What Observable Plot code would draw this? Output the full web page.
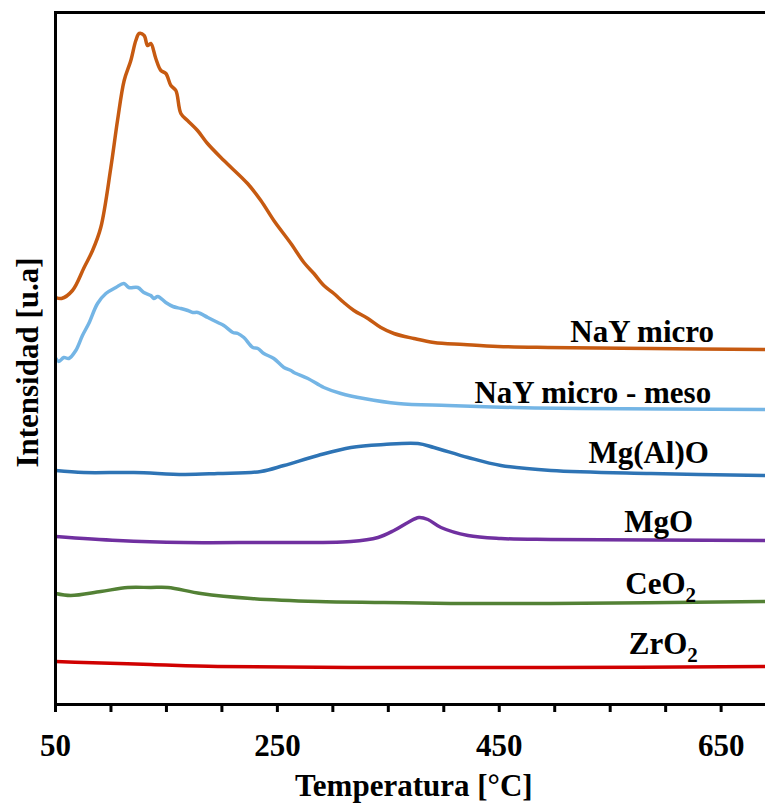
<!DOCTYPE html>
<html>
<head>
<meta charset="utf-8">
<script src="https://cdn.jsdelivr.net/npm/d3@7"></script>
<script src="https://cdn.jsdelivr.net/npm/@observablehq/plot@0.6"></script>
<style>
  html, body { margin: 0; padding: 0; background: #fff; }
  #chart svg { display: block; }
</style>
</head>
<body>
<div id="chart"></div>
<script>
// Series names and colours
const seriesNames = ["NaY micro", "NaY micro - meso", "Mg(Al)O", "MgO", "CeO2", "ZrO2"];
const seriesColors = ["#C65A11", "#74B5E5", "#2E74B5", "#7030A0", "#538135", "#D00000"];

// Temperature (°C) and intensity (a.u.) for each trace
const nayMicroT = [50.3,55.4,65.3,75.8,83.4,90.8,99.9,105.9,111.9,117.9,122.4,125.4,129.9,133,135.9,140.4,145,149.5,154,158.5,163,169,178,187,201.8,223.1,235.1,246.8,262.2,273.9,282.9,291.9,300.9,309.9,319,331.6,343.3,355,373,391,418,448.8,493.9,586.7,690.4];
const nayMicroI = [407,406,414,437,454,477,537,584,624,644,664,671,669,659,661,646,634,631,619,614,591,584,574,561,544,521,504,484,461,442,431,419,411,402,394,386,377,371,366,362,360,358,357,356,355];

const nayMesoT = [50.3,53,57.5,62,68.3,74.3,80,87.9,95.4,104.4,111.6,116.1,124.2,129.6,135.9,138.6,142.2,149.4,155.8,163,169.3,173.8,178.3,187.3,196.3,201.7,209.9,214.4,219.8,227.9,232.4,237.8,246.8,255.9,262.2,264.9,277.5,291.9,307.3,328,358.7,403.8,463.3,523.7,690.4];
const nayMesoI = [346,343,347,346,354,369,381,401,411,417,421,417,417,412,409,406,408,402,398,396,394,392,392,387,382,379,372,371,367,357,356,351,346,337,334,332,326,317,311,306,301,299,297,296,295];

const mgAlOT = [50.3,75.5,120.6,165.7,196.3,235.1,255.9,286.5,316.3,346,376.7,391.1,421.8,451.5,496.6,586.7,690.4];
const mgAlOI = [234,232,232,230,231,233,239,249,257,260,261,257,247,239,234,231,229];

const mgoT = [50.3,106.2,165.7,226.1,316.3,340.7,355.1,367.7,377.6,385.7,397.5,421.8,451.5,496.6,690.4];
const mgoI = [168,164,162,162,163,167,174,182,187,185,177,169,166,165,164];

const ceo2T = [50.3,63.8,90.8,115.2,135.9,151.3,181,226.1,286.5,346,406.4,496.6,690.4];
const ceo2I = [111,109,113,117,117,117,111,106,103,102,101,101,103];

const zro2T = [50.3,75.5,135.9,196.3,316.3,496.6,690.4];
const zro2I = [43,42,40,38,37,37,38];

// Axis ticks
const majorTicks = [50, 250, 450, 650];
const minorTicks = [50,100,150,200,250,300,350,400,450,500,550,600,650];

// Label placement (end of text, vertical centre)
const labelT = [643.6, 641, 639, 624.7, 627.4, 629];
const labelI = [372, 311, 251, 182, 120, 60];

const seriesT = [nayMicroT, nayMesoT, mgAlOT, mgoT, ceo2T, zro2T];
const seriesI = [nayMicroI, nayMesoI, mgAlOI, mgoI, ceo2I, zro2I];

const rows = [];
seriesNames.forEach((name, k) => {
  seriesT[k].forEach((t, i) => rows.push({name, t, v: seriesI[k][i]}));
});
const labels = seriesNames.map((name, k) => ({name, t: labelT[k], v: labelI[k]}));

const FONT = "'Liberation Serif', 'Times New Roman', serif";

const chart = Plot.plot({
  width: 765,
  height: 805,
  marginLeft: 55,
  marginRight: 0,
  marginTop: 12,
  marginBottom: 101,
  style: {fontFamily: FONT, fontWeight: "bold", fontSize: "31px", background: "#fff", overflow: "visible"},
  x: {domain: [50, 690]},
  y: {domain: [0, 692], axis: null},
  color: {domain: seriesNames, range: seriesColors},
  marks: [
    Plot.line(rows, {x: "t", y: "v", z: "name", stroke: "name", strokeWidth: 3.5, curve: "catmull-rom"}),
    Plot.ruleY([0, 692], {stroke: "#000", strokeWidth: 3, x1: 50 - 0.5, x2: 690}),
    Plot.ruleX([50], {stroke: "#000", strokeWidth: 3, y1: 0, y2: 693}),
    Plot.ruleX(minorTicks, {y1: 0, y2: -8, stroke: "#000", strokeWidth: 3}),
    Plot.axisX(majorTicks, {tickSize: 0, tickPadding: 29, fontSize: 31, fontWeight: "bold", fill: "#000", label: null, tickFormat: d => String(d)}),
    Plot.text(["Temperatura [°C]"], {x: 373, y: -82, text: d => d, fontSize: 31, fontWeight: "bold", fill: "#000", lineAnchor: "middle"}),
    Plot.text(["Intensidad [u.a]"], {frameAnchor: "left", dx: -27, dy: 4, text: d => d, rotate: -90, textAnchor: "middle", fontSize: 31, fontWeight: "bold", fill: "#000", lineAnchor: "middle"}),
    Plot.text(labels, {x: "t", y: "v", text: "name", textAnchor: "end", lineAnchor: "middle", fontSize: 31, fontWeight: "bold", fill: "#000"})
  ]
});

// Chemical subscripts
d3.select(chart).selectAll("text").each(function() {
  const el = d3.select(this);
  const s = el.text();
  if (s === "CeO2" || s === "ZrO2") {
    el.text(s.slice(0, -1));
    el.append("tspan").attr("font-size", "21px").attr("dy", "0.35em").text("2");
  }
});

document.getElementById("chart").appendChild(chart);
</script>
</body>
</html>
